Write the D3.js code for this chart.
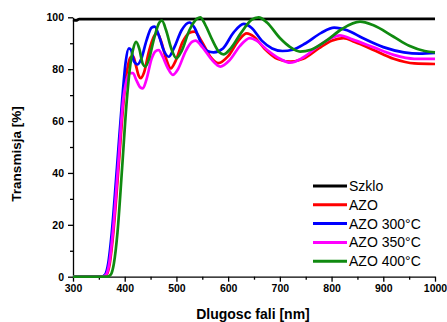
<html>
<head>
<script src="https://d3js.org/d3.v7.min.js"></script>
<style>
  body { margin: 0; background: #fff; }
  text { font-family: Arial, "Liberation Sans", sans-serif; }
  .axis text { font-weight: bold; font-size: 10.5px; fill: #000; }
  .axis path, .axis line { stroke: #000; stroke-width: 1.3px; }
</style>
</head>
<body>
<svg class="chart" width="447" height="322"></svg>
<script>
  // series: [wavelength nm, transmission %]
  var szklo = [[300,99],[306,98.8],[312,99.3],[1000,99.4]];
  var azo = [[300,0],[358,0],[365,0.8],[371,5],[378,17],[388,42],[398,68],[405,80],[411,84.5],[416,85],[421,82],[427,77.5],[431,76.5],[437,78.5],[447,87],[457,92.8],[463,93.8],[470,91],[480,84],[489,80.3],[498,83],[512,90.5],[525,94],[535,94.5],[548,91],[565,85],[581,82.3],[600,85],[620,91],[636,93.8],[650,92.5],[670,88],[695,84],[720,82.9],[745,84],[775,88],[800,91],[823,92],[845,90.5],[880,87.5],[920,84],[960,82.2],[1000,82]];
  var azo300 = [[300,0],[355,0],[362,0.8],[368,5],[375,17],[385,42],[395,68],[402,83],[408,88],[412,87.5],[418,83],[425,81.8],[432,84],[442,91],[452,96],[458,96.4],[466,93],[476,87],[485,84.8],[495,88],[510,95],[525,98],[535,96],[548,90],[560,87],[572,86.5],[590,88],[610,94],[630,97.5],[645,96],[665,91],[685,88],[705,87],[725,87.5],[750,90],[780,94],[805,96],[830,95],[860,92],[900,88.5],[940,86.5],[970,86],[1000,86.3]];
  var azo350 = [[300,0],[357,0],[364,0.8],[370,5],[377,17],[387,42],[397,68],[404,76],[410,78.5],[416,78.5],[422,76],[430,73],[435,72.6],[442,76],[452,84],[460,87],[466,87.4],[473,85],[483,80.5],[493,77.8],[503,80],[518,87],[530,90.5],[537,91],[550,88.5],[567,84],[585,81],[603,83.5],[623,89],[642,92],[655,91],[675,87.5],[700,84],[720,82.5],[745,84.5],[775,89],[800,92],[816,93],[840,91.5],[880,88.5],[920,85.5],[960,84],[1000,84]];
  var azo400 = [[300,0],[366,0],[373,0.8],[379,5],[386,17],[395,42],[404,68],[411,82],[416,87.5],[422,90.5],[428,88],[435,82],[440,81],[447,84],[457,92],[467,98],[472,98.7],[480,95],[490,88],[500,84.2],[510,87],[525,95],[540,99.5],[546,100],[556,97],[570,91],[583,86.5],[591,85.7],[605,88],[625,94],[645,99],[659,100],[675,98],[700,92],[720,88.5],[739,86.8],[760,87.5],[790,91],[820,95.5],[855,98.3],[880,97],[920,92.5],[950,89],[980,87],[1000,86.5]];

  var names = ["Szklo", "AZO", "AZO 300°C", "AZO 350°C", "AZO 400°C"];
  var colors = ["#000000", "#ff0000", "#0000ff", "#ff00ff", "#108a10"];
  var series = [szklo, azo, azo300, azo350, azo400];

  var xTicks = [300, 400, 500, 600, 700, 800, 900, 1000];
  var yTicks = [0, 20, 40, 60, 80, 100];

  var svg = d3.select("svg");
  var mLeft = 73, mRight = 435, mTop = 17.3, mBottom = 276.7;

  var x = d3.scaleLinear().domain([300, 1000]).range([mLeft, mRight]);
  var y = d3.scaleLinear().domain([0, 100]).range([mBottom, mTop]);

  // minor ticks first
  svg.append("g").attr("class", "axis")
    .attr("transform", "translate(0," + mBottom + ")")
    .call(d3.axisBottom(x).tickValues(d3.range(350, 1000, 100)).tickSize(3).tickFormat(""))
    .select(".domain").remove();
  svg.append("g").attr("class", "axis")
    .attr("transform", "translate(" + mLeft + ",0)")
    .call(d3.axisLeft(y).tickValues(d3.range(10, 100, 20)).tickSize(3).tickFormat(""))
    .select(".domain").remove();

  svg.append("g").attr("class", "axis")
    .attr("transform", "translate(0," + mBottom + ")")
    .call(d3.axisBottom(x).tickValues(xTicks).tickFormat(d3.format("d")).tickSize(5).tickSizeOuter(0).tickPadding(3));
  svg.append("g").attr("class", "axis")
    .attr("transform", "translate(" + mLeft + ",0)")
    .call(d3.axisLeft(y).tickValues(yTicks).tickFormat(d3.format("d")).tickSize(5).tickSizeOuter(0).tickPadding(4));

  var line = d3.line()
    .x(d => x(d[0]))
    .y(d => y(d[1]))
    .curve(d3.curveMonotoneX);

  series.forEach((s, i) => {
    svg.append("path")
      .datum(s)
      .attr("d", line)
      .attr("fill", "none")
      .attr("stroke", colors[i])
      .attr("stroke-width", 2.7)
      .attr("stroke-linejoin", "round");
  });

  // axis titles
  svg.append("text")
    .attr("x", 253).attr("y", 319)
    .attr("text-anchor", "middle")
    .style("font-weight", "bold").style("font-size", "14px")
    .text("Dlugosc fali [nm]");
  svg.append("text")
    .attr("transform", "translate(21,154) rotate(-90)")
    .attr("text-anchor", "middle")
    .style("font-weight", "bold").style("font-size", "13.5px")
    .text("Transmisja [%]");

  // legend
  var legend = svg.selectAll(".leg")
    .data(names)
    .enter()
    .append("g")
    .attr("class", "leg")
    .attr("transform", (d, i) => "translate(313," + (186 + i * 18.8) + ")");
  legend.append("line")
    .attr("x1", 0).attr("x2", 34)
    .attr("stroke", (d, i) => colors[i])
    .attr("stroke-width", 3);
  legend.append("text")
    .attr("x", 36).attr("y", 5)
    .style("font-size", "14px")
    .text(d => d);
</script>
</body>
</html>
